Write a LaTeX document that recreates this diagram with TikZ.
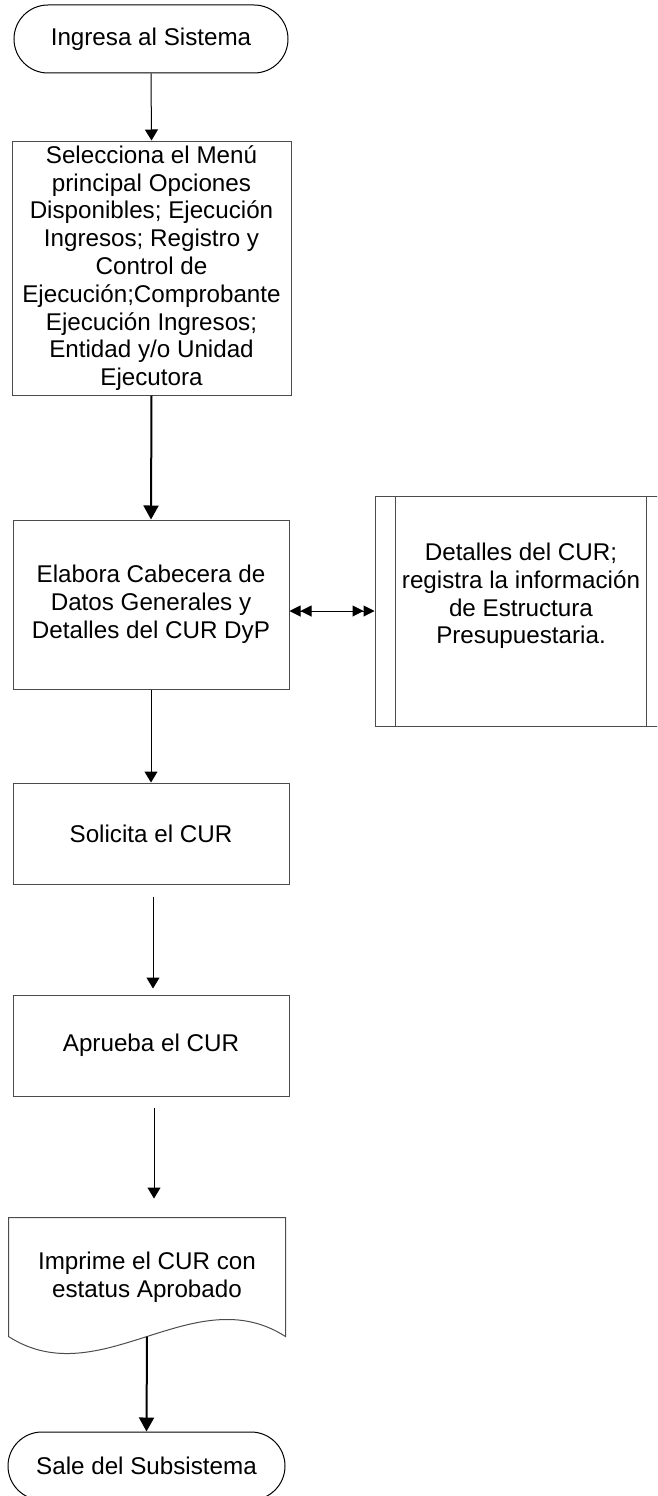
\documentclass[tikz,border=0pt]{standalone}
\usepackage{fontspec}
\setmainfont{Liberation Sans}
\usetikzlibrary{arrows.meta}

\tikzset{
  paso/.style={draw=black!70, line width=1pt, align=center, inner sep=0pt,
    font=\fontsize{24.2}{27.8}\selectfont},
  terminal/.style={paso, draw=black, rounded corners=34pt, minimum width=274pt, minimum height=68pt},
  flecha/.style={line width=1pt, -{Triangle[length=11pt,width=13pt]}},
  flechagruesa/.style={line width=2pt, -{Triangle[length=14pt,width=15pt]}},
  doble/.style={line width=1pt,
    {Triangle[length=11pt,width=11pt]Triangle[length=11pt,width=11pt]}-{Triangle[length=11pt,width=11pt]Triangle[length=11pt,width=11pt]}},
}

\begin{document}
\begin{tikzpicture}[x=1pt,y=-1pt]
        \useasboundingbox (0,0) rectangle (657,1496);
        \clip (0,0) rectangle (657,1496);

        % Start and the main column of steps
        \node[terminal] (inicio) at (151,39) {Ingresa al Sistema};
        \node[paso, minimum width=279pt, minimum height=254pt] (menu) at (151.5,268)
            {Selecciona el Menú\\principal Opciones\\Disponibles; Ejecución\\Ingresos; Registro y\\Control de\\Ejecución;Comprobante\\Ejecución Ingresos;\\Entidad y/o Unidad\\Ejecutora};
        \node[paso, minimum width=276pt, minimum height=169pt] (cabecera) at (151,604.5)
            {Elabora Cabecera de\\Datos Generales y\\Detalles del CUR DyP};
        \node[paso, minimum width=276pt, minimum height=101pt] (solicita) at (151,833.5) {Solicita el CUR};
        \node[paso, minimum width=276pt, minimum height=101pt] (aprueba) at (151,1045.5) {Aprueba el CUR};
        \node[paso, draw=none, minimum width=276pt, minimum height=118pt] (imprime) at (147,1277)
            {Imprime el CUR con\\estatus Aprobado};
        \node[terminal, minimum width=277pt] (fin) at (146.5,1466) {Sale del Subsistema};

        % Predefined process on the right
        \node[paso, minimum width=292pt, minimum height=230pt,
            label={[font=\fontsize{24.2}{27.8}\selectfont, align=center, yshift=15pt]center:{Detalles del CUR;\\registra la información\\de Estructura\\Presupuestaria.}}]
            (detalles) at (521,611) {};
        \draw[black!70, line width=1pt] ([xshift=21pt]detalles.north west) -- ([xshift=21pt]detalles.south west); % inner left
        \draw[black!70, line width=1pt] ([xshift=-21pt]detalles.north east) -- ([xshift=-21pt]detalles.south east); % inner right

        % Document outline with wavy bottom
        \draw[black!70, line width=1pt] (imprime.south west) -- (imprime.north west) -- (imprime.north east) -- (imprime.south east)
            .. controls ([xshift=-92pt,yshift=59pt]imprime.south east) and ([xshift=92pt,yshift=-59pt]imprime.south west) .. (imprime.south west);

        % Connectors
        \draw[flecha] (inicio.south) -- (menu.north);
        \draw[flechagruesa] (menu.south) -- (cabecera.north);
        \draw[flecha] (cabecera.south) -- (solicita.north);
        \draw[flecha, shorten <=12pt, shorten >=6pt] ([xshift=2pt]solicita.south) -- ([xshift=2pt]aprueba.north);
        \draw[flecha, shorten <=11pt, shorten >=19pt] ([xshift=3pt]aprueba.south) -- ([xshift=3pt]aprueba.south |- imprime.north);
        \draw[flechagruesa] (imprime.south) -- (fin.north);
        \draw[doble] (cabecera.east |- detalles.west) -- (detalles.west);

    \end{tikzpicture}
\end{document}
